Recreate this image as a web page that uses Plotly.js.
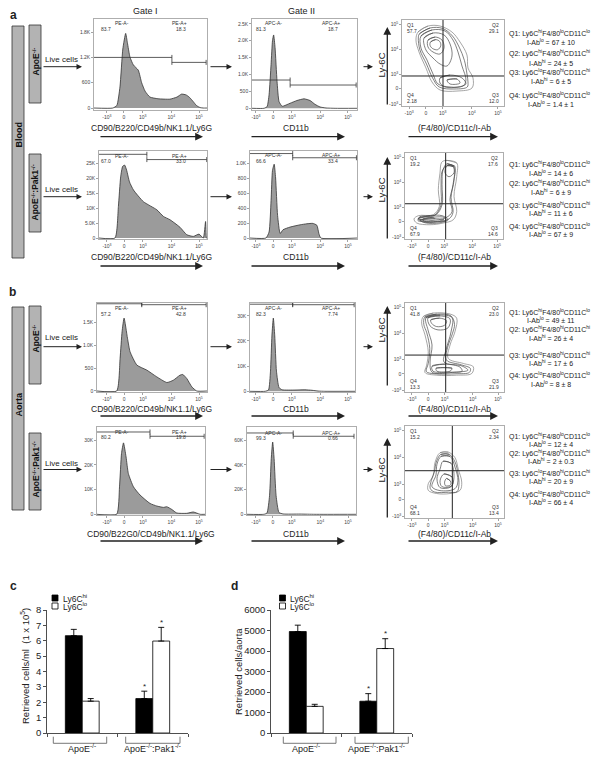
<!DOCTYPE html>
<html><head><meta charset="utf-8">
<script src="https://cdn.plot.ly/plotly-3.0.1.min.js"></script>
<style>html,body{margin:0;padding:0;background:#fff}#chart{width:603px;height:763px}</style>
</head><body><div id="chart"></div>
<script>
// ================= DATA =================
// Flow histograms: x in display decades (0 = zero; -0.6=-10^3, 0.66=10^3, 1.66=10^4, 2.63=10^5), y = events
const hA1x = [-0.39,-0.25,-0.14,-0.04,0.06,0.12,0.21,0.33,0.50,0.62,0.74,0.91,1.19,1.61,1.86,2.02,2.18,2.30,2.43,2.54,2.67,2.77];
const hA1y = [0,60,500,1400,1770,1550,1210,1020,900,600,400,260,220,210,260,330,310,250,150,60,10,0];
const hA2x = [-0.32,-0.21,-0.14,-0.07,-0.02,0.02,0.07,0.14,0.21,0.32,0.60,0.84,1.09,1.30,1.47,1.65,1.86,2.18];
const hA2y = [0,50,400,1300,2000,2170,1800,800,200,60,150,230,280,230,120,40,10,0];
const hA3x = [-0.32,-0.20,-0.12,-0.05,0.02,0.09,0.19,0.33,0.68,1.15,1.38,1.61,1.96,2.20,2.43,2.63,2.78,2.86,2.89];
const hA3y = [0,10500,20400,23900,24300,22600,18700,16000,12100,9400,7200,6100,3600,1100,530,1300,0,5500,0];
const hA4x = [-0.25,-0.14,-0.07,-0.02,0.04,0.09,0.16,0.25,0.35,0.60,0.95,1.19,1.40,1.54,1.61,1.68];
const hA4y = [0,80,500,900,984,800,300,60,110,146,176,190,195,170,60,0];
const hB1x = [-0.26,-0.14,-0.07,0,0.12,0.21,0.45,0.80,1.15,1.50,1.73,1.96,2.06,2.20,2.38,2.55];
const hB1y = [0,711,1294,1588,1149,855,564,454,307,184,235,344,360,272,88,0];
const hB2x = [-0.28,-0.16,-0.09,-0.04,0.01,0.06,0.12,0.21,0.32,0.77,1.12,1.37,1.58,1.82];
const hB2y = [0,500,8000,22000,29100,22000,8000,1500,600,500,600,400,100,0];
const hB3x = [-0.26,-0.16,-0.09,-0.02,0.07,0.15,0.33,0.56,0.91,1.15,1.38,1.50,1.67,1.85,2.20,2.43,2.67];
const hB3y = [0,11100,24600,28900,23200,16500,11100,7800,4400,3350,2800,3050,2000,520,400,930,0];
const hB4x = [-0.32,-0.21,-0.12,-0.06,-0.01,0.04,0.11,0.21,0.35,0.95,1.47];
const hB4y = [0,1000,15000,45000,58500,45000,15000,1500,300,200,0];

// gates: [from, to, level]
const gA1 = [[-1.05,1.68,1200],[1.68,2.88,1082]];
const gA2 = [[-0.74,0.60,837],[0.60,2.92,689]];
const gA3 = [[-0.88,0.80,27900],[0.80,2.90,26150]];
const gA4 = [[-0.81,0.69,1126],[0.69,2.93,1070]];
const gB1 = [[-0.95,0.62,1900],[0.62,2.88,1880]];
const gB2 = [[-0.81,0.69,34600],[0.69,2.85,34400]];
const gB3 = [[-0.95,0.91,33300],[0.91,2.81,31570]];
const gB4 = [[-0.91,0.71,65800],[0.71,2.84,63150]];
const pA1 = ['83.7','18.3'], pA2 = ['81.3','18.7'], pA3 = ['67.0','33.0'], pA4 = ['66.6','33.4'];
const pB1 = ['57.2','42.8'], pB2 = ['82.3','7.74'], pB3 = ['80.2','19.8'], pB4 = ['99.3','0.66'];

// contour plots (channel units 0-1000 of each axis), rings
const cA1x = [[157,255,373,490,569,637,647,696,686,539,373,294,235,167,137],[170,275,398,495,560,612,637,647,640,520,365,300,240,176,160],[186,294,422,500,549,588,627,598,471,353,304,245,186],[216,304,412,471,490,441,373,304,235],[255,324,392,412,373,304,255],[280,330,370,380,350,300,275],[373,471,588,627,549,422,373],[441,539,569,471]];
const cA1y = [[860,930,930,860,744,593,442,326,209,174,186,279,442,628,767],[838,907,902,814,686,530,372,280,221,198,221,326,488,651,790],[814,884,872,767,628,465,302,233,221,256,372,535,674],[791,849,826,721,581,465,488,558,651],[767,802,767,674,605,628,686],[745,772,750,700,655,668,705],[326,360,326,256,221,221,267],[302,314,267,256]];
const cA2x = [[418,528,528,500,528,493,391,255,119,92,136,289,350,340,357,374],[440,505,500,470,490,450,330,180,140,300,365,368,380],[429,500,490,459,480,418,255,133,153,316,378,378,388],[429,490,500,449,408],[133,255,378,439,357,204],[180,300,400,420,330,200],[153,306,398,276]];
const cA2y = [[914,884,728,495,321,224,186,166,186,233,271,283,379,573,767,891],[860,850,680,480,310,235,200,200,245,275,390,600,790],[875,841,631,457,317,248,213,213,259,283,399,631,805],[852,841,771,724,771],[236,271,271,224,189,189],[230,255,250,215,200,205],[224,236,224,201]];
const cB1x = [[185,286,455,522,505,455,437,589,690,674,522,320,202,219,235,202,168],[200,320,465,500,480,430,418,570,660,650,515,300,215,235,250,220,190],[212,354,475,465,414,394,576,636,505,273,253,273,232],[232,354,455,434,333,253],[260,350,420,400,320,270],[273,404,556,576,434,283],[313,475,455,323]];
const cB1y = [[848,887,876,830,679,528,378,321,283,208,189,189,219,302,452,641,774],[840,875,855,760,660,500,360,305,265,220,205,205,230,320,490,665,760],[834,866,834,675,472,337,292,245,223,223,337,528,698],[834,855,821,720,698,743],[810,830,800,750,735,770],[290,313,279,234,223,234],[267,267,234,234]];
const cB2x = [[354,437,505,538,573,556,455,320,235,235,286,303],[360,445,505,537,545,525,440,300,255,265,300,312],[364,455,505,535,505,354,273,313,323],[384,465,495,465,354,323,354],[394,475,475,374,354],[420,460,460,410,400]];
const cB2y = [[710,716,656,532,390,301,266,266,301,372,461,603],[690,693,610,470,360,285,280,282,320,405,515,595],[670,670,553,404,319,298,340,468,585],[617,596,447,340,330,426,532],[479,447,351,340,404],[430,400,360,350,390]];
const crossA1 = [402,349], crossA2 = [415,410], crossB1 = [411,415], crossB2 = [478,514];
const qPctA1 = ['57.7','29.1','12.0','2.18'], qPctA2 = ['19.2','17.6','14.6','67.9'];
const qPctB1 = ['41.8','23.0','21.9','13.3'], qPctB2 = ['15.2','2.34','13.4','68.1'];
const qPheno = [['hi','lo','lo','lo'],['hi','hi','hi','hi'],['lo','hi','hi','hi'],['lo','lo','lo','lo']];
const qValA1 = ['67 ± 10','24 ± 5','6 ± 5','1.4 ± 1'];
const qValA2 = ['14 ± 6','6 ± 9','11 ± 6','67 ± 9'];
const qValB1 = ['49 ± 11','26 ± 4','17 ± 6','8 ± 8'];
const qValB2 = ['12 ± 4','2 ± 0.3','20 ± 9','66 ± 4'];

// bar charts
const groups = ['ApoE-/-','ApoE-/-:Pak1-/-'];
const groupLabels = ['ApoE<sup>-/-</sup>','ApoE<sup>-/-</sup>:Pak1<sup>-/-</sup>'];
const bloodHi = [6.33,2.24], bloodHiErr = [0.41,0.48];
const bloodLo = [2.07,5.98], bloodLoErr = [0.17,0.89];
const aortaHi = [4950,1550], aortaHiErr = [310,370];
const aortaLo = [1300,4120], aortaLoErr = [100,480];
const sigHi = [false,true], sigLo = [false,true];

// axis ticks
const U = [-0.6,0,0.66,1.66,2.63];
const UT = ['-10<sup>3</sup>','0','10<sup>3</sup>','10<sup>4</sup>','10<sup>5</sup>'];
const CXT = [70,235,400,685,940];
const CYT = [15,205,365,660,950];

// ================= BUILD =================
const W = 603, H = 763;
const F = "Arial, 'Liberation Sans', Helvetica, sans-serif";
const TINY = 5;
const data = [], shapes = [], ann = [];
const layout = {width:W,height:H,margin:{l:0,r:0,t:0,b:0},paper_bgcolor:'#fff',plot_bgcolor:'rgba(0,0,0,0)',
  showlegend:false,barmode:'group',bargap:0.52,bargroupgap:0,font:{family:F,size:9,color:'#222'}};
const A = n => n===1?'':String(n);
function txt(x,y,text,size,extra){ann.push(Object.assign({xref:'paper',yref:'paper',x:x/W,y:1-y/H,text:text,showarrow:false,xanchor:'center',yanchor:'middle',font:{family:F,size:size||8,color:'#222'}},extra||{}));}
function arrow(x0,y0,x1,y1,w,s){ann.push({xref:'paper',yref:'paper',x:x1/W,y:1-y1/H,ax:x0-x1,ay:y0-y1,text:'',showarrow:true,arrowhead:2,arrowsize:s||1.1,arrowwidth:w||1,arrowcolor:'#222',standoff:0,startstandoff:0});}
function rectPx(x0,y0,x1,y1,fill,line){shapes.push({type:'rect',xref:'paper',yref:'paper',x0:x0/W,x1:x1/W,y0:1-y1/H,y1:1-y0/H,fillcolor:fill,line:{color:line||'#333',width:0.8}});}

function flowAxes(n,box,xr,yr,xt,xtt,yt,ytt){
  const [L,R,T,B]=box;
  const base={showline:true,mirror:true,linecolor:'#9a9a9a',linewidth:0.8,ticks:'outside',ticklen:2,tickwidth:0.6,tickcolor:'#666',
    tickfont:{family:F,size:TINY,color:'#444'},showgrid:false,zeroline:false,fixedrange:true};
  layout['xaxis'+A(n)]=Object.assign({},base,{domain:[L/W,R/W],range:xr,tickvals:xt,ticktext:xtt,anchor:'y'+A(n)});
  layout['yaxis'+A(n)]=Object.assign({},base,{domain:[1-B/H,1-T/H],range:yr,tickvals:yt,ticktext:ytt,anchor:'x'+A(n)});
}

const hists = [
 {n:1,box:[94,207,19,110],xr:[-1.05,2.91],yr:[-47,2111],hx:hA1x,hy:hA1y,yt:[0,600,1200,1800],ytt:['0','600','1.2K','1.8K'],g:gA1,p:pA1,col:1,ly:[23,29]},
 {n:2,box:[252,357,19,110],xr:[-0.74,2.95],yr:[-50,2642],hx:hA2x,hy:hA2y,yt:[0,500,1000,1500,2000,2500],ytt:['0','500','1.0K','1.5K','2.0K','2.5K'],g:gA2,p:pA2,col:2,ly:[23,29]},
 {n:4,box:[99,207,151,239],xr:[-0.88,2.91],yr:[-331,29007],hx:hA3x,hy:hA3y,yt:[0,5000,10000,15000,20000,25000],ytt:['0','5.0K','10K','15K','20K','25K'],g:gA3,p:pA3,col:1,ly:[155.7,160.7]},
 {n:5,box:[250,357,151,239],xr:[-0.81,2.95],yr:[-13,1160],hx:hA4x,hy:hA4y,yt:[0,200,400,600,800,1000],ytt:['0','200','400','600','800','1.0K'],g:gA4,p:pA4,col:2,ly:[155.5,161]},
 {n:7,box:[97,207,303,392],xr:[-0.95,2.91],yr:[-22,1917],hx:hB1x,hy:hB1y,yt:[0,500,1000,1500],ytt:['0','500','1.0K','1.5K'],g:gB1,p:pB1,col:1,ly:[307.7,314.3]},
 {n:8,box:[250,355,303,392],xr:[-0.81,2.88],yr:[-280,35080],hx:hB2x,hy:hB2y,yt:[0,10000,20000,30000],ytt:['0','10K','20K','30K'],g:gB2,p:pB2,col:2,ly:[307.7,314.3]},
 {n:10,box:[97,205,427,515],xr:[-0.95,2.84],yr:[-280,35320],hx:hB3x,hy:hB3y,yt:[0,10000,20000,30000],ytt:['0','10K','20K','30K'],g:gB3,p:pB3,col:1,ly:[432.2,437]},
 {n:11,box:[247,356,427,515],xr:[-0.91,2.91],yr:[-560,70640],hx:hB4x,hy:hB4y,yt:[0,20000,40000,60000],ytt:['0','20K','40K','60K'],g:gB4,p:pB4,col:2,ly:[432.5,437.7]}
];
hists.forEach(h=>{
  flowAxes(h.n,h.box,h.xr,h.yr,U,UT,h.yt,h.ytt);
  const xa='x'+A(h.n), ya='y'+A(h.n);
  data.push({type:'scatter',mode:'lines',x:[h.xr[0]].concat(h.hx,[h.xr[1]]),y:[0].concat(h.hy,[0]),xaxis:xa,yaxis:ya,
    fill:'tozeroy',fillcolor:'#9b9b9b',line:{color:'#333',width:0.8,shape:'spline',smoothing:0.5},hoverinfo:'skip'});
  h.g.forEach((g,i)=>{
    shapes.push({type:'line',xref:xa,yref:ya,x0:g[0],x1:g[1],y0:g[2],y1:g[2],line:{color:'#333',width:0.8}});
    const caps = i===0?[g[1]]:[g[0],g[1]];
    caps.forEach(c=>shapes.push({type:'line',xref:xa,yref:ya,ysizemode:'pixel',yanchor:g[2],y0:-2.5,y1:2.5,x0:c,x1:c,line:{color:'#333',width:0.8}}));
  });
  const lab = h.col===1?['PE-A-','PE-A+']:['APC-A-','APC-A+'];
  const xs = h.col===1?[122,180,106,181]:[273,331,261,333];
  const f={family:F,size:TINY,color:'#333'};
  txt(xs[0],h.ly[0],lab[0],TINY,{font:f});
  txt(xs[1],h.ly[0],lab[1],TINY,{font:f});
  txt(xs[2],h.ly[1],h.p[0],TINY,{font:f});
  txt(xs[3],h.ly[1],h.p[1],TINY,{font:f});
});

const conts = [
 {n:3,box:[402,504,20,106],rx:cA1x,ry:cA1y,cross:crossA1,q:qPctA1},
 {n:6,box:[405,503,153,239],rx:cA2x,ry:cA2y,cross:crossA2,q:qPctA2},
 {n:9,box:[405,504,303,392],rx:cB1x,ry:cB1y,cross:crossB1,q:qPctB1},
 {n:12,box:[405,504,426,518],rx:cB2x,ry:cB2y,cross:crossB2,q:qPctB2}
];
conts.forEach(c=>{
  flowAxes(c.n,c.box,[0,1000],[0,1000],CXT,UT,CYT,UT);
  const xa='x'+A(c.n), ya='y'+A(c.n);
  c.rx.forEach((rx,i)=>{
    const ry=c.ry[i];
    data.push({type:'scatter',mode:'lines',x:rx.concat([rx[0],rx[1]]),y:ry.concat([ry[0],ry[1]]),xaxis:xa,yaxis:ya,
      line:{color:i===0?'#808080':'#4a4a4a',width:0.7,shape:'spline',smoothing:1},hoverinfo:'skip'});
  });
  shapes.push({type:'line',xref:xa,yref:ya+' domain',x0:c.cross[0],x1:c.cross[0],y0:0,y1:1,line:{color:'#222',width:1}});
  shapes.push({type:'line',xref:xa+' domain',yref:ya,x0:0,x1:1,y0:c.cross[1],y1:c.cross[1],line:{color:'#222',width:1}});
  const [L,R,T,B]=c.box; const f={family:F,size:TINY,color:'#333'};
  txt(L+3,T+5,'Q1',TINY,{xanchor:'left',font:f}); txt(L+3,T+11,c.q[0],TINY,{xanchor:'left',font:f});
  txt(R-3,T+5,'Q2',TINY,{xanchor:'right',font:f}); txt(R-3,T+11,c.q[1],TINY,{xanchor:'right',font:f});
  txt(R-3,B-11,'Q3',TINY,{xanchor:'right',font:f}); txt(R-3,B-5,c.q[2],TINY,{xanchor:'right',font:f});
  txt(L+3,B-11,'Q4',TINY,{xanchor:'left',font:f}); txt(L+3,B-5,c.q[3],TINY,{xanchor:'left',font:f});
});

// Q descriptions
function addQ(vals,ys){
  for(let i=0;i<4;i++){const p=qPheno[i];
    txt(507,ys[i][0],'Q'+(i+1)+': Ly6C<sup>'+p[0]+'</sup>F4/80<sup>'+p[1]+'</sup>CD11C<sup>'+p[2]+'</sup>',7,{xanchor:'left'});
    txt(551,ys[i][1],'I-Ab<sup>'+p[3]+'</sup> = '+vals[i],7);
  }
}
addQ(qValA1,[[33.3,42.3],[53.3,62.7],[72.7,81.3],[95,104]]);
addQ(qValA2,[[165,173.3],[184,192.3],[205,212.7],[226,234.3]]);
addQ(qValB1,[[312.3,320],[329,337.7],[355,362.5],[375,384]]);
addQ(qValB2,[[436.7,444],[453.3,460.7],[473.3,480.7],[494,501.7]]);

// side bars and labels
rectPx(12,26,24,258,'#b3b3b3'); rectPx(29,25,41,103,'#b3b3b3'); rectPx(29,154,41,232,'#b3b3b3');
rectPx(12,307,24,510,'#b3b3b3'); rectPx(29,306,41,384,'#b3b3b3'); rectPx(29,433,41,510,'#b3b3b3');
const bf = s=>({textangle:-90,font:{family:F,size:s,color:'#111'}});
txt(18.5,135,'<b>Blood</b>',9,bf(9)); txt(18.5,405,'<b>Aorta</b>',9,bf(9));
txt(35.5,62,'<b>ApoE<sup>-/-</sup></b>',8.5,bf(8.5)); txt(35.5,193,'<b>ApoE<sup>-/-</sup>:Pak1<sup>-/-</sup></b>',8.5,bf(8.5));
txt(35.5,339,'<b>ApoE<sup>-/-</sup></b>',8.5,bf(8.5)); txt(35.5,470,'<b>ApoE<sup>-/-</sup>:Pak1<sup>-/-</sup></b>',8.5,bf(8.5));

// panel letters and titles
txt(13,15,'<b>a</b>',12); txt(12,292,'<b>b</b>',12); txt(13,586,'<b>c</b>',12); txt(234,586,'<b>d</b>',12);
txt(145,11,'Gate I',9); txt(301,11,'Gate II',9);

// row arrows and labels
const rowsY = [[60,66.7,128,136.7,65,27,106],[189.3,196.7,257.3,266,190,157,240],[337.7,346.7,409,416,330,306,387],[463.3,469.5,534.3,541,470,438,519]];
const xl1 = ['CD90/B220/CD49b/NK1.1/Ly6G','CD90/B220/CD49b/NK1.1/Ly6G','CD90/B220/CD49b/NK1.1/Ly6G','CD90/B22G0/CD49b/NK1.1/Ly6G'];
rowsY.forEach((r,i)=>{
  txt(61,r[0],'Live cells',8);
  arrow(42,r[1],82,r[1],1,1.1);
  arrow(209,r[1],232,r[1],1,1.1);
  arrow(362,r[1],373,r[1],1,1.1);
  txt(151,r[2],xl1[i],8.5); txt(296,r[2],'CD11b',8.5); txt(454,r[2],'(F4/80)/CD11c/I-Ab',8.5);
  arrow(99,r[3],203,r[3],1.3,1.2); arrow(250,r[3],345,r[3],1.3,1.2); arrow(407,r[3],498,r[3],1.3,1.2);
  txt(380.5,r[4],'Ly-6C',9.5,{textangle:-90});
  arrow(387.3,r[6],387.3,r[5],1.3,1.2);
});

// ---------- bar charts ----------
function barAxes(n,L,R,yr,dt){
  layout['xaxis'+n]={domain:[L/W,R/W],type:'category',range:[-0.5,1.5],anchor:'y'+n,showline:true,linecolor:'#222',linewidth:0.8,
    ticks:'outside',tickson:'boundaries',ticklen:3,tickcolor:'#222',tickwidth:0.8,showticklabels:false,showgrid:false,zeroline:false,fixedrange:true};
  layout['yaxis'+n]={domain:[1-733/H,1-610/H],range:yr,dtick:dt,anchor:'x'+n,showline:true,linecolor:'#222',linewidth:0.8,ticks:'outside',ticklen:3,
    tickcolor:'#222',tickwidth:0.8,tickfont:{family:F,size:9.5,color:'#222'},showgrid:false,zeroline:false,fixedrange:true};
}
barAxes(13,47,188,[0,8],1); barAxes(14,271,412,[0,6000],1000);
function bars(n,hi,hiE,lo,loE){
  const eb=e=>({type:'data',array:e,arrayminus:[0,0],symmetric:false,color:'#000',thickness:0.9,width:3});
  data.push({type:'bar',x:groups,y:hi,xaxis:'x'+n,yaxis:'y'+n,marker:{color:'#000',line:{color:'#000',width:0.8}},error_y:eb(hiE),hoverinfo:'skip'});
  data.push({type:'bar',x:groups,y:lo,xaxis:'x'+n,yaxis:'y'+n,marker:{color:'#fff',line:{color:'#000',width:0.8}},error_y:eb(loE),hoverinfo:'skip'});
  [[hi,hiE,sigHi,-0.12],[lo,loE,sigLo,0.12]].forEach(s=>{
    s[0].forEach((v,i)=>{ if(s[2][i]) ann.push({xref:'x'+n,yref:'y'+n,x:i+s[3],y:v+s[1][i],text:'*',showarrow:false,yanchor:'middle',yshift:5,font:{family:F,size:8,color:'#222'}}); });
  });
  groupLabels.forEach((g,i)=>ann.push({xref:'x'+n,yref:'paper',x:i,y:1-748/H,text:g,showarrow:false,yanchor:'middle',font:{family:F,size:9,color:'#222'}}));
}
bars(13,bloodHi,bloodHiErr,bloodLo,bloodLoErr);
bars(14,aortaHi,aortaHiErr,aortaLo,aortaLoErr);
function bracket(x0,x1){shapes.push({type:'path',xref:'paper',yref:'paper',path:`M${x0/W},${1-736.7/H} L${x0/W},${1-743.3/H} L${x1/W},${1-743.3/H} L${x1/W},${1-736.7/H}`,line:{color:'#555',width:0.8}});}
bracket(53.3,106.7); bracket(125.7,180); bracket(283.3,336); bracket(355,408.3);
txt(25,666,'Retrieved cells/ml  (1 x 10<sup>5</sup>)',9.5,{textangle:-90});
txt(238,672,'Retrieved cells/aorta',9.5,{textangle:-90});
// legends
[[52,60.5],[279.5,288]].forEach(l=>{
  rectPx(l[0],595,l[0]+6,601,'#000','#000'); rectPx(l[0],603,l[0]+6,609,'#fff','#000');
  txt(l[1],598,'Ly6C<sup>hi</sup>',8.5,{xanchor:'left'}); txt(l[1],606,'Ly6C<sup>lo</sup>',8.5,{xanchor:'left'});
});

layout.shapes=shapes; layout.annotations=ann;
Plotly.newPlot('chart',data,layout,{displayModeBar:false,staticPlot:true});
</script></body></html>
